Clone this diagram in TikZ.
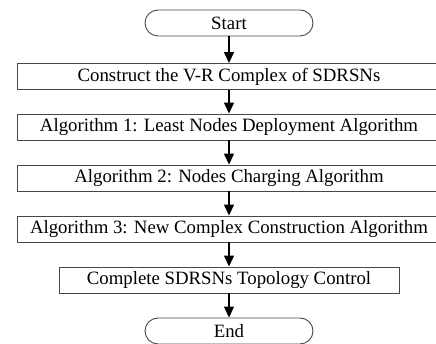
\documentclass[tikz,border=0pt]{standalone}
\usepackage{fontspec}
\setmainfont{Liberation Serif}
\usetikzlibrary{arrows.meta,positioning}

\begin{document}
\begin{tikzpicture}[x=1pt,y=1pt,
		stepbox/.style={draw=black!72,line width=0.9pt,minimum height=26pt,
			inner sep=0pt,font=\fontsize{18.8}{22}\selectfont},
		widebox/.style={stepbox,minimum width=424pt},
		termbox/.style={stepbox,rounded corners=13pt,minimum width=168pt},
		flow/.style={-{Triangle[length=11pt,width=10pt]},line width=1.4pt}]
	\useasboundingbox (0,0) rectangle (436,344);
	\clip (0,0) rectangle (436,344);
	
	% Terminals and the steps of the topology control scheme.
	\node[termbox] (start) at (229,321) {Start};
	\node[widebox] (vr) at (229,267.5) {Construct the V-R Complex of SDRSNs};
	\node[widebox] (alga) at (229,217) {Algorithm 1: Least Nodes Deployment Algorithm};
	\node[widebox] (algb) at (229,166) {Algorithm 2: Nodes Charging Algorithm};
	\node[widebox] (algc) at (229,115) {Algorithm 3: New Complex Construction Algorithm};
	\node[stepbox,minimum width=340pt] (topo) at (229,64) {Complete SDRSNs Topology Control};
	\node[termbox] (stop) at (229,13) {End};
	
	% Straight flow from top to bottom.
	\foreach \a/\b in {start/vr,vr/alga,alga/algb,algb/algc,algc/topo,topo/stop}{
		\draw[flow] (\a.south)--(\b.north);
	}
\end{tikzpicture}
\end{document}
